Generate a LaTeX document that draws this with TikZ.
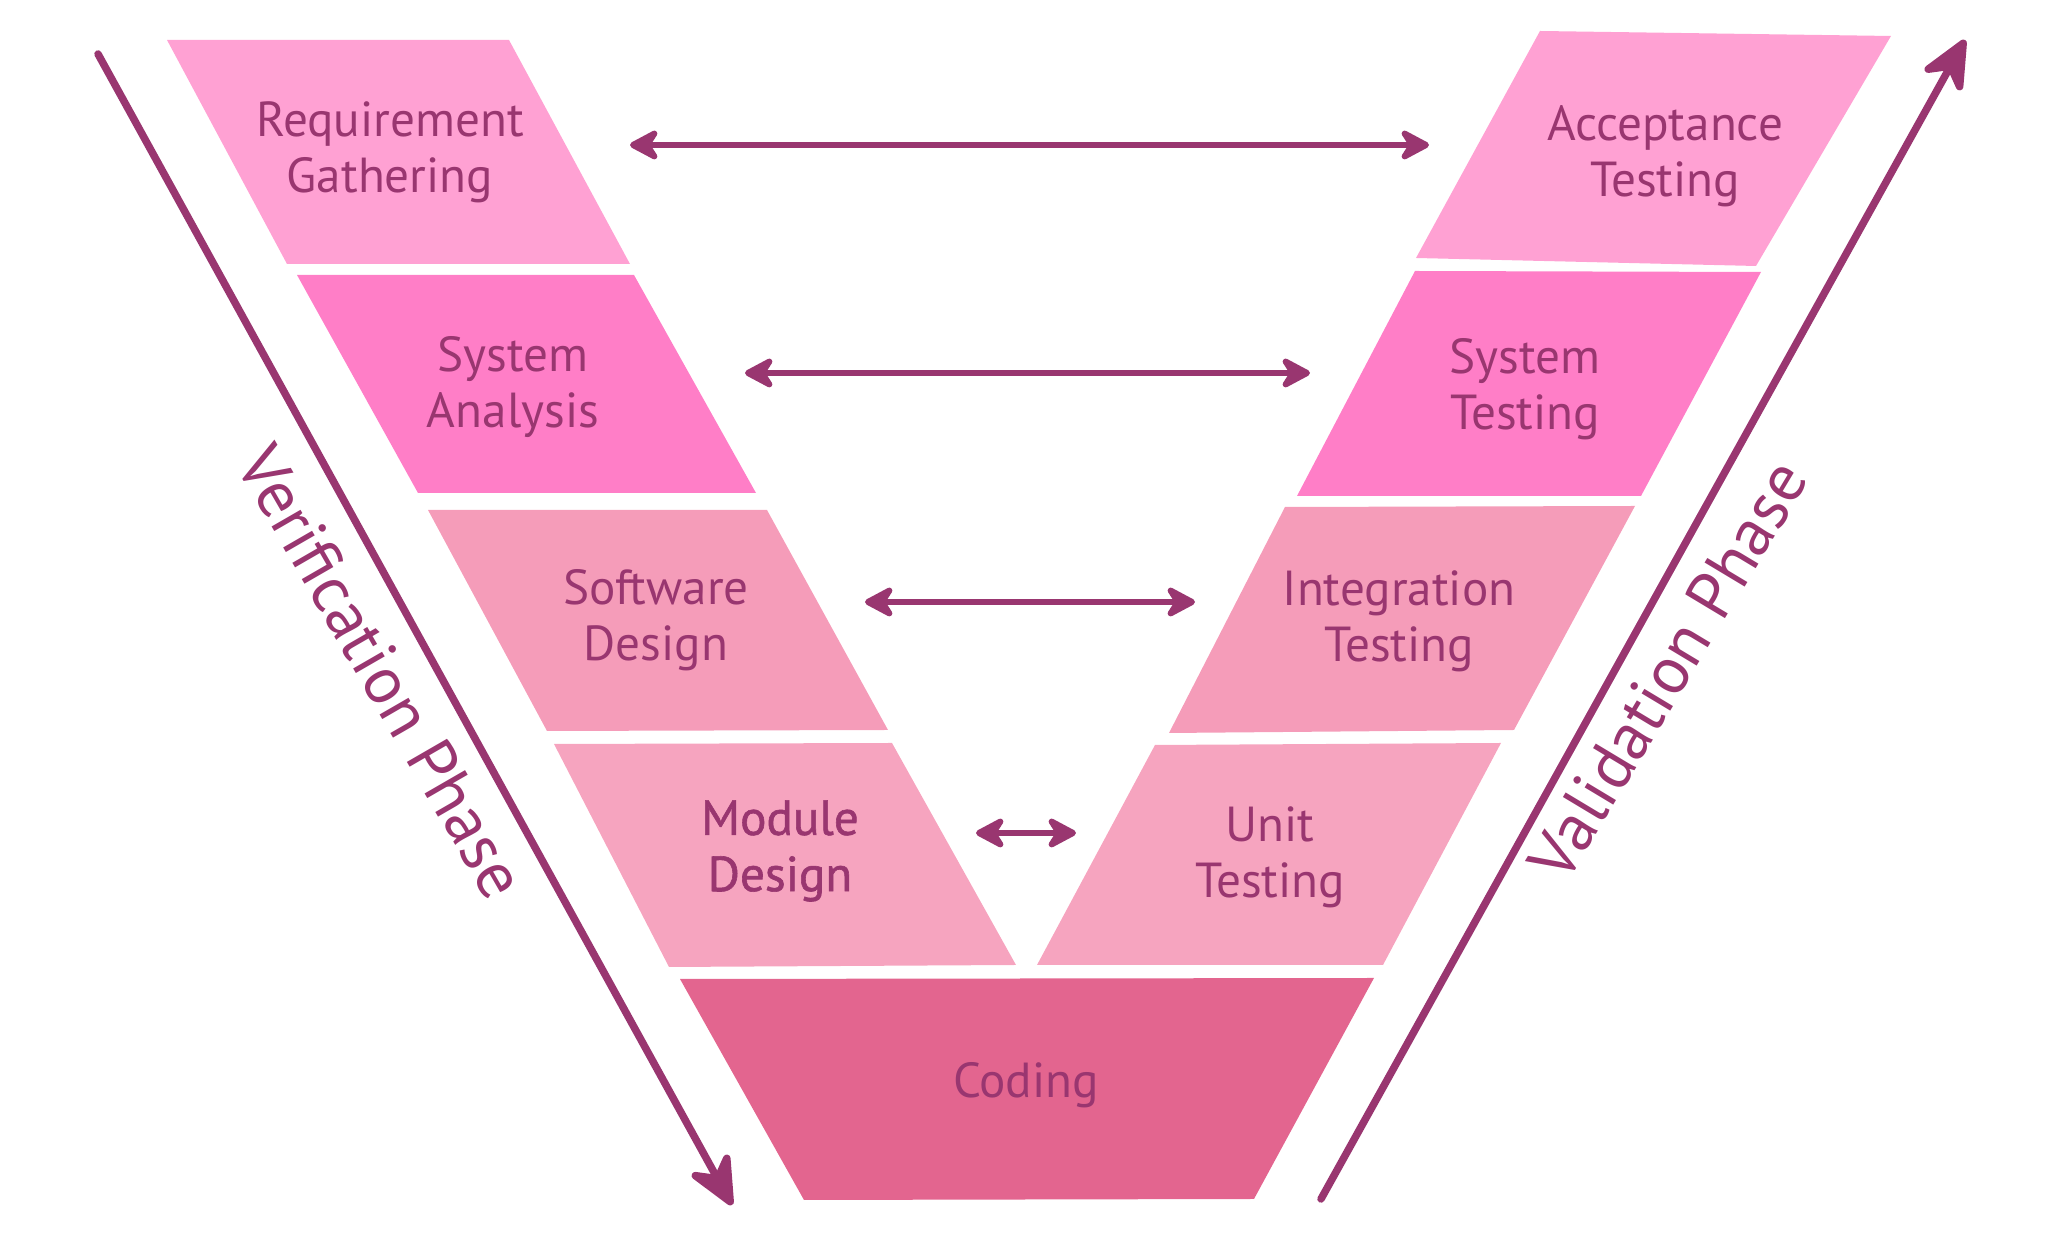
\documentclass[tikz,border=0pt]{standalone}
\usepackage{fontspec}
\setmainfont{PT Sans}
\usetikzlibrary{arrows.meta}
\definecolor{ink}{HTML}{993670}
\definecolor{cOne}{HTML}{FFA1D3}
\definecolor{cTwo}{HTML}{FF7EC7}
\definecolor{cThree}{HTML}{F59CB9}
\definecolor{cFour}{HTML}{F6A4BF}
\definecolor{cCode}{HTML}{E3658F}
\begin{document}
\begin{tikzpicture}[x=1cm,y=1cm,
  lbl/.style={text=ink, align=center, font=\fontsize{14}{16}\selectfont, inner sep=0pt},
  phase/.style={text=ink, font=\fontsize{19}{22}\selectfont, inner sep=0pt},
  link/.style={draw=ink, line width=0.06cm,
    {Stealth[length=0.36cm,width=0.38cm,inset=0.12cm,round]}-{Stealth[length=0.36cm,width=0.38cm,inset=0.12cm,round]}},
  flow/.style={draw=ink, line width=0.075cm, line cap=round,
    -{Stealth[length=0.6cm,width=0.54cm,inset=0.2cm,round]}}]
\useasboundingbox (0,0) rectangle (20.48,-12.54);
% blocks, left branch
\fill[cOne]   (1.67,-0.40) -- (5.09,-0.40) -- (6.30,-2.64) -- (2.87,-2.64) -- cycle;
\fill[cTwo]   (2.97,-2.75) -- (6.34,-2.75) -- (7.56,-4.93) -- (4.18,-4.93) -- cycle;
\fill[cThree] (4.28,-5.10) -- (7.67,-5.10) -- (8.88,-7.30) -- (5.47,-7.31) -- cycle;
\fill[cFour]  (5.54,-7.44) -- (8.92,-7.43) -- (10.16,-9.65) -- (6.69,-9.67) -- cycle;
% bottom
\fill[cCode]  (6.80,-9.79) -- (13.74,-9.78) -- (12.54,-11.99) -- (8.04,-12.00) -- cycle;
% blocks, right branch
\fill[cOne]   (15.40,-0.31) -- (18.91,-0.36) -- (17.56,-2.66) -- (14.16,-2.58) -- cycle;
\fill[cTwo]   (14.15,-2.71) -- (17.61,-2.72) -- (16.41,-4.96) -- (12.97,-4.96) -- cycle;
\fill[cThree] (12.85,-5.07) -- (16.35,-5.06) -- (15.14,-7.30) -- (11.69,-7.33) -- cycle;
\fill[cFour]  (11.55,-7.45) -- (15.01,-7.43) -- (13.83,-9.65) -- (10.37,-9.65) -- cycle;
% labels
\node[lbl] (req)  at (3.90,-1.52) {Requirement\\Gathering};
\node[lbl] (sysa) at (5.13,-3.87) {System\\Analysis};
\node[lbl] (swd)  at (6.56,-6.20) {Software\\Design};
\node[lbl, font=\fontsize{14}{16}\selectfont\addfontfeature{FakeBold=1.2}] (modd) at (7.80,-8.51) {Module\\Design};
\node[lbl] (code) at (10.26,-10.85) {Coding};
\node[lbl] (acc)  at (16.65,-1.56) {Acceptance\\Testing};
\node[lbl] (syst) at (15.25,-3.89) {System\\Testing};
\node[lbl] (intg) at (13.99,-6.21) {Integration\\Testing};
\node[lbl] (unit) at (12.70,-8.57) {Unit\\Testing};
% arrow end points
\coordinate (a1l) at (6.30,-1.45);  \coordinate (a1r) at (14.29,-1.45);
\coordinate (a2l) at (7.45,-3.73);  \coordinate (a2r) at (13.10,-3.73);
\coordinate (a3l) at (8.65,-6.02);  \coordinate (a3r) at (11.95,-6.02);
\coordinate (a4l) at (9.76,-8.33);  \coordinate (a4r) at (10.76,-8.33);
\coordinate (vs) at (0.98,-0.54);   \coordinate (ve) at (7.32,-12.05);
\coordinate (ls) at (13.21,-11.99); \coordinate (le) at (19.65,-0.40);
\draw[link] (a1l) -- (a1r);
\draw[link] (a2l) -- (a2r);
\draw[link] (a3l) -- (a3r);
\draw[link] (a4l) -- (a4r);
\draw[flow] (vs) -- (ve);
\draw[flow] (ls) -- (le);
\node[phase, rotate=-60] (verif) at (3.82,-6.72) {Verification Phase};
\node[phase, rotate=59]  (valid) at (16.68,-6.70) {Validation Phase};
\end{tikzpicture}
\end{document}
